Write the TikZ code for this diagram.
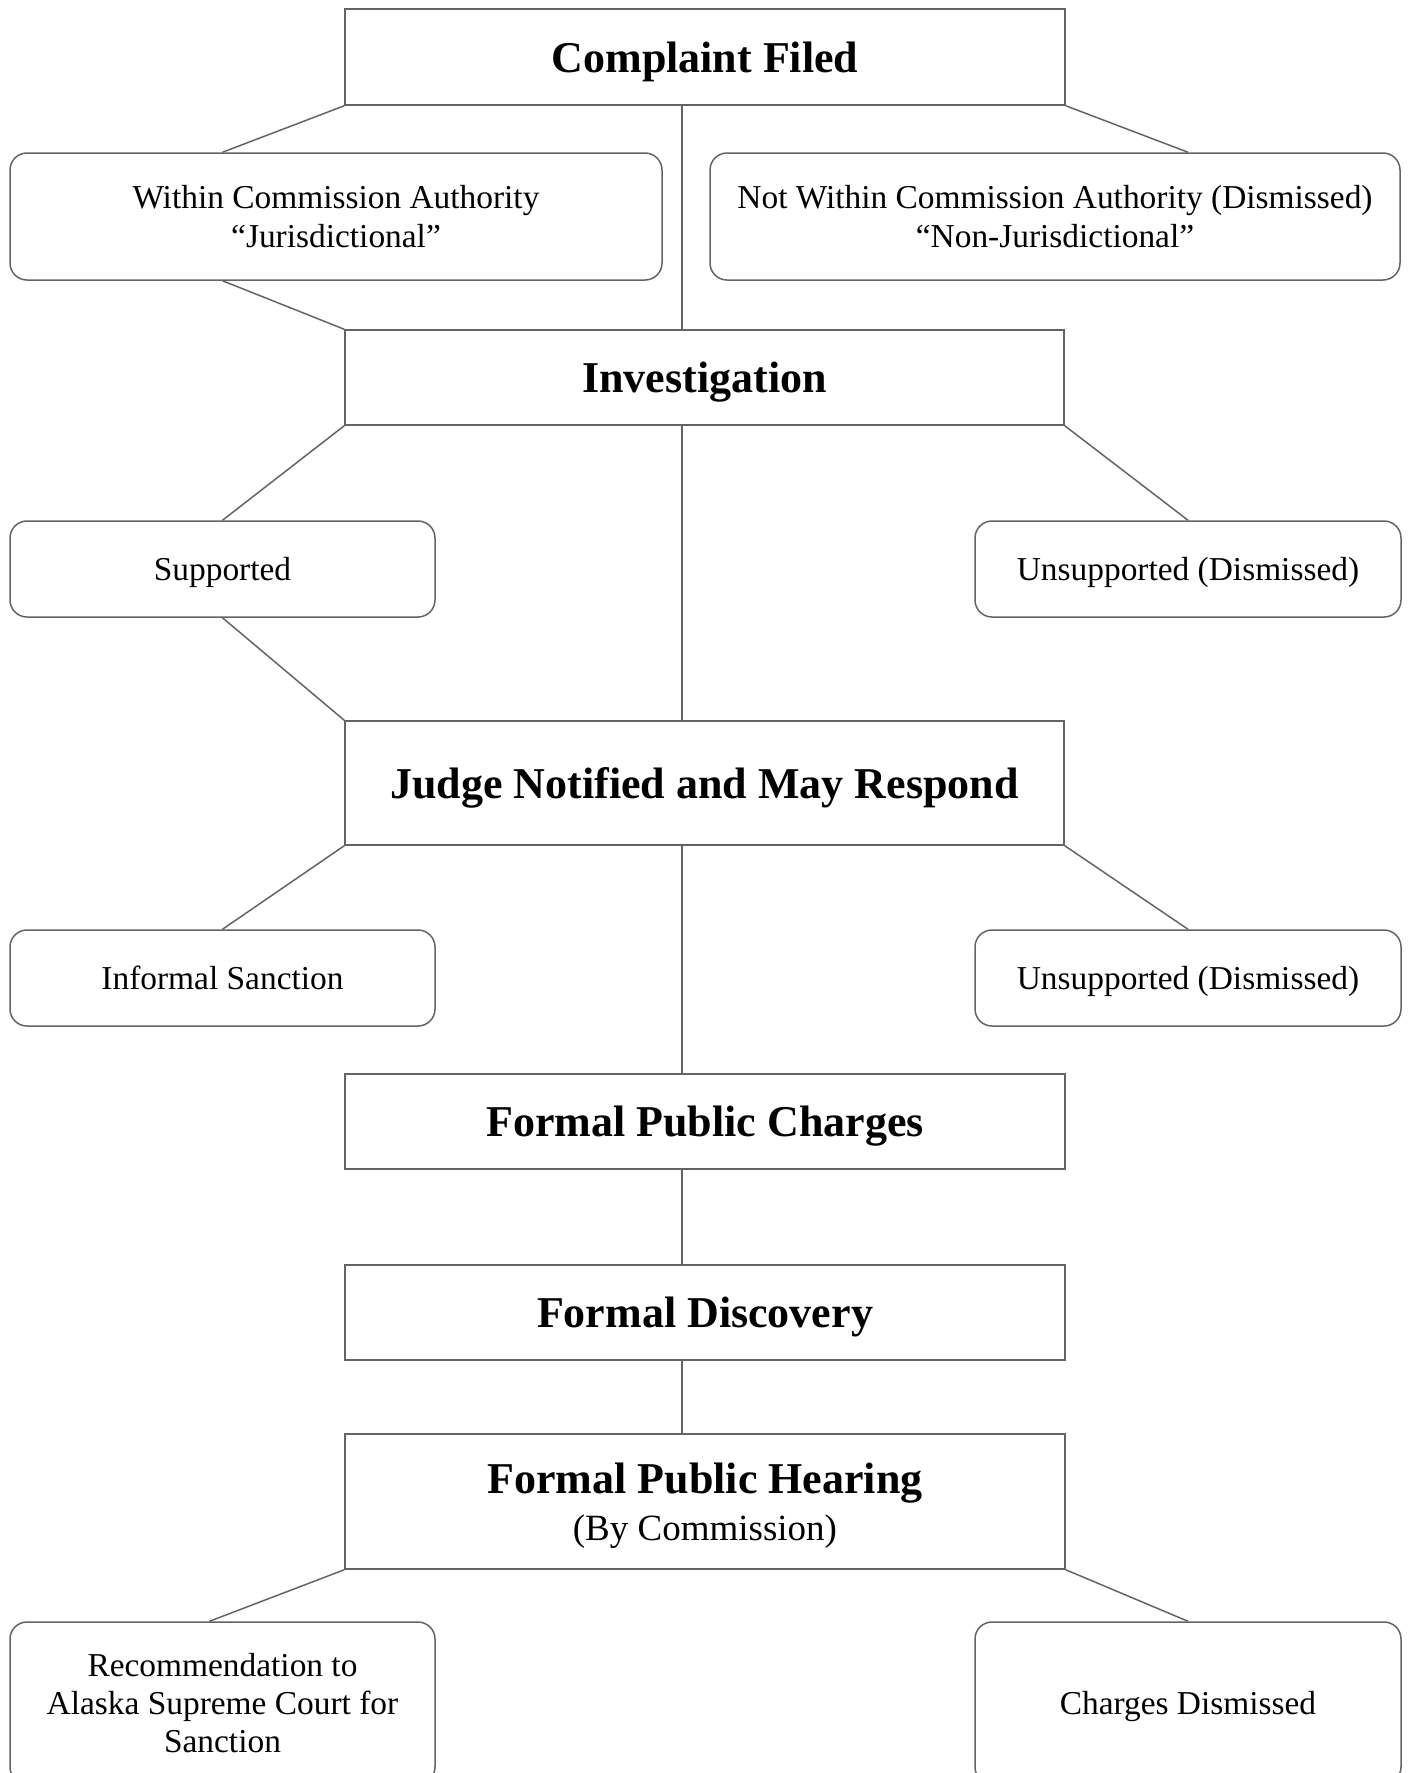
\documentclass[tikz,border=0pt]{standalone}
\usepackage{fontspec}
\setmainfont{Liberation Serif}
\usetikzlibrary{positioning}
\definecolor{linegray}{RGB}{100,100,100}

\begin{document}
\begin{tikzpicture}[x=1pt,y=-1pt,
	stage/.style={rectangle,draw=linegray,line width=1.5pt,align=center,inner sep=0pt,text depth=0pt,font=\fontsize{44}{47}\selectfont\bfseries},
	outcome/.style={rectangle,rounded corners=17pt,draw=linegray,line width=1.5pt,align=center,inner sep=0pt,text depth=0pt,font=\fontsize{33.4}{39.6}\selectfont},
	link/.style={draw=linegray,line width=1.5pt}]
		
		\useasboundingbox (0,0) rectangle (1408,1773);
		\coordinate (spine) at (682,0);
		
		\node[stage,minimum width=720pt,minimum height=96pt] (CF) at (705,57) {Complaint Filed};
		\node[outcome,minimum width=652pt,minimum height=127pt] (WCA) at (336,216.5) {Within Commission Authority\\``Jurisdictional''};
		\node[outcome,minimum width=690pt,minimum height=127pt] (NWCA) at (1055,216.5) {Not Within Commission Authority (Dismissed)\\``Non-Jurisdictional''};
		
		\node[stage,minimum width=719pt,minimum height=95pt] (INV) at (704.5,377.5) {Investigation};
		\node[outcome,minimum width=425pt,minimum height=96pt] (SUP) at (222.5,569) {Supported};
		\node[outcome,minimum width=426pt,minimum height=96pt] (UNS1) at (1188,569) {Unsupported (Dismissed)};
		
		\node[stage,minimum width=719pt,minimum height=124pt] (JN) at (704.5,783) {Judge Notified and May Respond};
		\node[outcome,minimum width=425pt,minimum height=96pt] (INF) at (222.5,978) {Informal Sanction};
		\node[outcome,minimum width=426pt,minimum height=96pt] (UNS2) at (1188,978) {Unsupported (Dismissed)};
		
		\node[stage,minimum width=720pt,minimum height=95pt] (FPC) at (705,1121.5) {Formal Public Charges};
		\node[stage,minimum width=720pt,minimum height=95pt] (FD) at (705,1312.5) {Formal Discovery};
		\node[stage,minimum width=720pt,minimum height=135pt] (FPH) at (705,1501.5) {Formal Public Hearing\\{\fontsize{37}{44}\selectfont\mdseries (By Commission)}};
		
		\node[outcome,minimum width=425pt,minimum height=162pt,font=\fontsize{33.4}{37.9}\selectfont] (REC) at (222.5,1703) {Recommendation to\\Alaska Supreme Court for\\Sanction};
		\node[outcome,minimum width=426pt,minimum height=162pt] (CD) at (1188,1703) {Charges Dismissed};
		
		\draw[link] (CF.south west) -- (WCA.north -| SUP.north);
		\draw[link] (CF.south east) -- (NWCA.north -| UNS1.north);
		\draw[link] (CF.south -| spine) -- (INV.north -| spine);
		\draw[link] (WCA.south -| SUP.south) -- (INV.north west);
		
		\draw[link] (INV.south west) -- (SUP.north);
		\draw[link] (INV.south -| spine) -- (JN.north -| spine);
		\draw[link] (INV.south east) -- (UNS1.north);
		\draw[link] (SUP.south) -- (JN.north west);
		
		\draw[link] (JN.south west) -- (INF.north);
		\draw[link] (JN.south -| spine) -- (FPC.north -| spine);
		\draw[link] (JN.south east) -- (UNS2.north);
		
		\draw[link] (FPC.south -| spine) -- (FD.north -| spine);
		\draw[link] (FD.south -| spine) -- (FPH.north -| spine);
		\draw[link] (FPH.south west) -- ([xshift=-13pt]REC.north);
		\draw[link] (FPH.south east) -- (CD.north);

\end{tikzpicture}
\end{document}
